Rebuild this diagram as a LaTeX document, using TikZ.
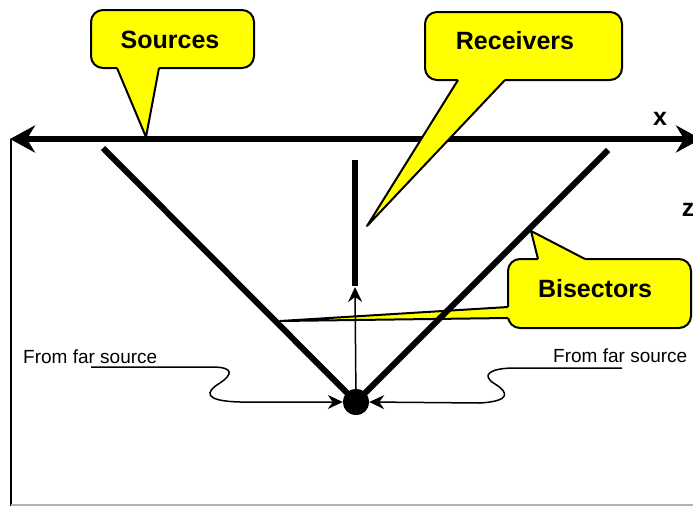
\documentclass[tikz,border=0pt]{standalone}
\usepackage{fontspec}
\setmainfont{Liberation Sans}
\usetikzlibrary{arrows.meta}
\definecolor{cyel}{RGB}{255,255,0}
\begin{document}
\begin{tikzpicture}[x=1pt,y=-1pt,
  cbox/.style={draw=black, fill=cyel, line width=2pt, rounded corners=12pt},
  cfill/.style={fill=cyel},
  cedge/.style={draw=black, line width=2pt, line join=round},
  ctext/.style={inner sep=0pt, font=\fontsize{25}{30}\selectfont\bfseries},
  ftext/.style={inner sep=0pt, font=\fontsize{19}{23}\selectfont},
  heavy/.style={line width=6pt},
  fine/.style={line width=1.5pt},
  bigtip/.tip={Stealth[length=25pt,width=27pt,inset=8pt]},
  smalltip/.tip={Stealth[length=15pt,width=14pt,inset=5pt]}
]
\useasboundingbox (0,0) rectangle (693,506);

% Bisectors callout (below the lines)
\draw[cbox] (508,259) rectangle (691,328);
\fill[cfill] (531,231) -- (538,258) -- (538,263) -- (585,263) -- (585,258) -- cycle;
\draw[cedge] (538,259) -- (531,231) -- (585,259);
\fill[cfill] (280,321) -- (508,307) -- (514,307) -- (514,318) -- (508,318) -- cycle;
\draw[cedge] (508,307) -- (280,321) -- (508,318);
\node[ctext] (bis) at (595,289) {Bisectors};

% frame
\coordinate (ftop) at (11,139);
\coordinate (fbot) at (11,506);
\coordinate (gl) at (11,505);
\coordinate (gr) at (693,505);
\draw[line width=2.5pt] (ftop) -- (fbot);
\draw[black!30, line width=1.5pt] (gl) -- (gr);

% dot (receiver point)
\node[circle, fill=black, inner sep=0pt, minimum size=26pt] (dot) at (356,402) {};

% bisector lines
\coordinate (lb) at (103,148);
\coordinate (rb) at (608,150);
\draw[heavy] (lb) -- (dot.center) -- (rb);

% receiver line
\coordinate (rtop) at (355,160);
\coordinate (rbot) at (355,286);
\draw[heavy] (rtop) -- (rbot);
\draw[fine, -smalltip] (dot.center) -- (355,287);

% far source arrows
\node[ftext, anchor=base west] (fl) at (23,363) {From far source};
\node[ftext, anchor=base west] (fr) at (553,362) {From far source};
\coordinate (ul) at (91,367);
\coordinate (ur) at (622,368);
\draw[fine, -smalltip] (ul) -- (212,367)
   .. controls (235,367) and (232,375) .. (220,383)
   .. controls (205,392) and (203,401) .. (240,402) -- (dot.west);
\draw[fine, -smalltip] (ur) -- (515,368)
   .. controls (490,368) and (480,375) .. (495,384)
   .. controls (508,392) and (512,401) .. (480,403) -- (dot.east);

\node[circle, fill=black, inner sep=0pt, minimum size=26pt] at (dot.center) {};

% x axis
\coordinate (xl) at (10,139);
\coordinate (xr) at (701,139);
\draw[heavy, bigtip-bigtip] (xl) -- (xr);
\node[ctext] (xlab) at (660,119) {x};
\node[ctext] (zlab) at (688,210) {z};

% Sources callout
\draw[cbox] (91,10) rectangle (254,68);
\fill[cfill] (146,137) -- (117,67) -- (117,62) -- (159,62) -- (159,67) -- cycle;
\draw[cedge] (117,68) -- (146,137) -- (159,68);
\node[ctext] (src) at (170,40) {Sources};

% Receivers callout
\draw[cbox] (425,12) rectangle (622,80);
\fill[cfill] (367,226) -- (458,79) -- (458,74) -- (505,74) -- (505,79) -- cycle;
\draw[cedge] (458,80) -- (367,226) -- (505,80);
\node[ctext] (rcv) at (515,41) {Receivers};
\end{tikzpicture}
\end{document}
